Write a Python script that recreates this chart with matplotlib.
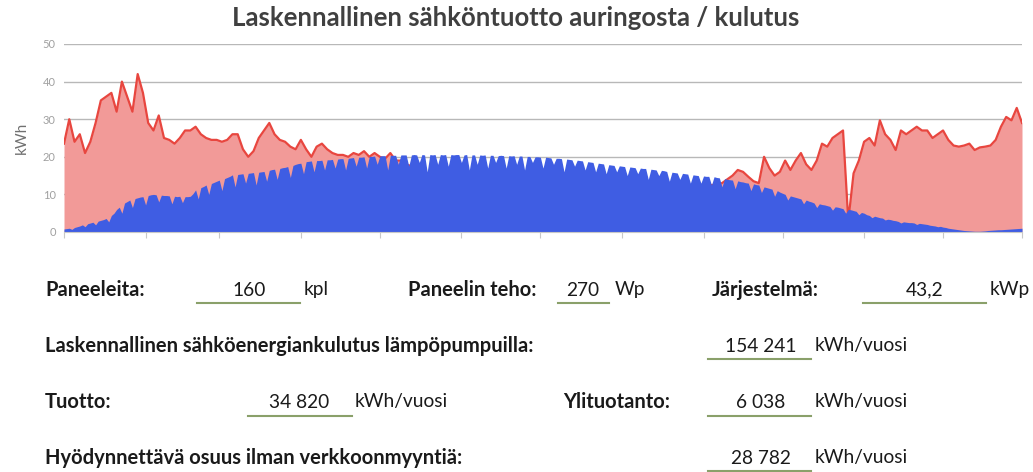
import numpy as np
import matplotlib
matplotlib.use('Agg')
import matplotlib.pyplot as plt
from matplotlib.lines import Line2D

plt.rcParams['font.family'] = ['Lato', 'DejaVu Sans']

# kulutus (kWh), joka toinen päivä 0..364
kulutus = [
    23.5, 30, 24, 26, 21, 24, 29, 35, 36, 37, 32, 40, 36, 32, 42, 37, 29, 27, 31, 25,
    24.5, 23.5, 25, 27, 27, 28, 26, 25, 24.5, 24.5, 24, 24.5, 26, 26, 22, 20, 21.5, 25, 27, 29,
    26, 24.5, 24, 22.7, 22, 24.5, 22, 20, 22.7, 23.5, 22, 21, 20.5, 20.5, 20, 21, 20.5, 21.5, 20, 21,
    20, 19.5, 21, 19, 19, 18, 17.5, 16.5, 16, 15.5, 15, 14.5, 14, 13.5, 13, 12.5, 12.5, 12, 12, 11.5,
    11.5, 11.5, 11, 11, 11, 11, 11, 11, 11, 11, 11, 11, 11, 11, 11, 11, 11, 11, 11, 11,
    11, 11, 11, 11, 11, 11.5, 11.5, 11.5, 11.5, 11.5, 11.5, 11.5, 11.5, 12, 12, 12, 12, 12, 12, 12,
    12, 12, 12, 12.5, 12.5, 13,
    14, 15, 16.5, 16, 14.7, 13.5, 13, 20, 17, 15, 16, 19, 16.5, 19, 21, 18, 16.5, 19, 23.5, 22.7,
    25, 26, 27, 3, 15.6, 19, 24, 25, 23, 29.7, 26, 24.5, 21.8, 27, 26, 27, 28, 27, 27, 25,
    26, 27, 24.5, 23, 22.7, 23, 23.5, 21.8, 22.5, 22.7, 23, 24.5, 28, 30.6, 29.7, 33, 29,
]

# tuotto (kWh), päivittäin 0..364
tuotto = [
    0.8, 0.9, 1.0, 0.7, 1.2, 1.4, 1.6, 1.9, 1.4, 2.2, 2.4, 2.6, 1.9, 2.9, 3.1, 3.3, 3.6, 2.7, 4.4, 5.0,
    6.0, 6.6, 5.0, 7.7, 8.1, 8.5, 6.5, 8.9, 9.1, 9.3, 9.4, 7.2, 9.7, 9.9, 10.0, 9.9, 8.0, 9.8, 9.7, 9.7,
    9.6, 7.5, 9.5, 9.4, 9.5, 7.8, 9.4, 9.4, 9.5, 10.2, 11.2, 8.8, 11.8, 12.1, 12.5, 10.0, 12.9, 13.2, 13.5, 13.8,
    11.0, 14.2, 14.5, 14.8, 15.2, 12.0, 15.3, 15.4, 15.5, 13.0, 15.6, 15.7, 15.8, 12.5, 15.9, 16.0, 16.1, 13.5, 16.4, 16.6,
    16.7, 14.0, 16.9, 17.1, 17.2, 17.4, 14.5, 17.7, 18.0, 18.2, 18.3, 15.5, 18.7, 18.8, 18.9, 16.0, 19.0, 19.0, 19.1, 16.5,
    19.2, 19.2, 19.3, 17.0, 19.4, 19.5, 19.5, 16.5, 19.6, 19.7, 19.8, 17.5, 19.9, 19.9, 20.0, 17.0, 20.1, 20.1, 20.2, 18.0,
    20.2, 20.3, 20.3, 16.5, 20.4, 20.4, 20.4, 18.0, 20.5, 20.5, 20.5, 17.5, 20.5, 20.6, 20.5, 18.5, 20.6, 20.5, 16.0, 20.6,
    20.5, 20.6, 18.0, 20.6, 20.5, 20.6, 17.5, 20.6, 20.5, 20.6, 20.6, 18.5, 20.5, 20.6, 16.5, 20.5, 20.5, 18.0, 20.5, 20.4,
    20.5, 17.0, 20.4, 20.4, 18.5, 20.3, 20.4, 20.3, 17.0, 20.3, 20.2, 20.3, 18.0, 20.2, 20.2, 16.5, 20.1, 20.1, 18.5, 20.0,
    20.0, 19.9, 17.0, 19.9, 19.8, 19.7, 18.0, 19.6, 19.6, 19.5, 16.0, 19.4, 19.3, 19.2, 17.5, 19.1, 19.0, 18.9, 16.5, 18.7,
    18.6, 18.5, 16.0, 18.3, 18.2, 18.1, 15.5, 17.9, 17.8, 17.7, 16.0, 17.6, 17.5, 17.4, 15.0, 17.3, 17.2, 17.1, 15.5, 17.0,
    16.9, 16.9, 14.0, 16.7, 16.6, 16.5, 15.0, 16.4, 16.3, 16.1, 13.5, 15.9, 15.8, 15.7, 14.0, 15.6, 15.5, 15.4, 13.0, 15.2,
    15.1, 15.0, 13.0, 14.9, 14.8, 14.8, 12.5, 14.7, 14.5, 14.4, 12.0, 14.2, 14.0, 13.9, 13.8, 11.5, 13.6, 13.4, 13.3, 13.1,
    13.0, 11.0, 12.8, 12.6, 12.5, 10.5, 12.0, 11.8, 11.6, 11.4, 9.5, 11.0, 10.6, 10.3, 10.0, 8.5, 9.6, 9.4, 9.2, 9.0,
    8.8, 7.5, 8.5, 8.2, 8.0, 7.7, 6.5, 7.5, 7.3, 7.2, 7.0, 6.8, 5.8, 6.7, 6.6, 6.4, 6.2, 5.0, 6.0, 5.9,
    5.7, 5.5, 4.6, 5.2, 5.0, 4.6, 4.4, 3.8, 4.2, 4.0, 3.8, 3.7, 3.2, 3.4, 3.3, 3.1, 3.0, 2.8, 2.4, 2.7,
    2.6, 2.5, 2.5, 2.4, 2.0, 2.3, 2.2, 2.1, 2.0, 1.8, 1.7, 1.6, 1.4, 1.5, 1.3, 1.2, 1.0, 0.9, 0.8, 0.7,
    0.6, 0.5, 0.4, 0.35, 0.3, 0.25, 0.2, 0.2, 0.2, 0.25, 0.3, 0.4, 0.45, 0.5, 0.55, 0.6, 0.6, 0.65, 0.7, 0.75,
    0.8, 0.85, 0.9, 0.95, 1.0,
]

kuukausirajat = [0, 31, 59, 90, 120, 151, 181, 212, 243, 273, 304, 334, 364]

W, H = 1033, 472
fig = plt.figure(figsize=(W / 100, H / 100), dpi=100)
ax = fig.add_axes([64 / W, 1 - 232 / H, (1022 - 64) / W, (232 - 44) / H])

xk = np.arange(len(kulutus)) * 2
xt = np.arange(len(tuotto))

ax.fill_between(xk, kulutus, color='#f29a98', lw=0, zorder=1)
ax.plot(xk, kulutus, color='#e8463f', lw=1.6, zorder=2)
ax.fill_between(xt, tuotto, color='#3f5de3', lw=0, zorder=3)

ax.set_xlim(0, 364)
ax.set_ylim(0, 50)
ax.set_yticks(range(0, 51, 10))
ax.set_xticks(kuukausirajat)
ax.set_xticklabels([])
ax.grid(axis='y', color='#b8b8b8', lw=1)
ax.set_axisbelow(True)
for s in ['top', 'right', 'left']:
    ax.spines[s].set_visible(False)
ax.spines['bottom'].set_color('#c8c8c8')
ax.spines['bottom'].set_zorder(4)
ax.tick_params(axis='x', length=4, color='#c8c8c8')
ax.tick_params(axis='y', length=0, labelsize=8, labelcolor='#a0a0a0', pad=6)
ax.set_ylabel('kWh', fontsize=11, color='#707070', labelpad=10)

fig.text(516 / W, 1 - 18 / H, 'Laskennallinen sähköntuotto auringosta / kulutus',
         ha='center', va='center', fontsize=18.5, fontweight='bold', color='#404040')


def teksti(x, y, s, bold=False, ha='left'):
    fig.text(x / W, 1 - y / H, s, ha=ha, va='center',
             fontsize=14.5 if bold else 13.8,
             fontweight='bold' if bold else 'normal', color='#1a1a1a')


def viiva(x0, x1, y):
    fig.add_artist(Line2D([x0 / W, x1 / W], [1 - y / H, 1 - y / H],
                          transform=fig.transFigure, color='#8aa06a', lw=1.5))


# rivi 1
teksti(45, 290, 'Paneeleita:', bold=True)
teksti(249, 290, '160', ha='center')
viiva(197, 300, 303)
teksti(304, 290, 'kpl')
teksti(408, 290, 'Paneelin teho:', bold=True)
teksti(583, 290, '270', ha='center')
viiva(558, 609, 303)
teksti(615, 290, 'Wp')
teksti(712, 290, 'Järjestelmä:', bold=True)
teksti(925, 290, '43,2', ha='center')
viiva(863, 986, 303)
teksti(990, 290, 'kWp')

# rivi 2
teksti(45, 346, 'Laskennallinen sähköenergiankulutus lämpöpumpuilla:', bold=True)
teksti(761, 346, '154 241', ha='center')
viiva(708, 811, 359)
teksti(815, 346, 'kWh/vuosi')

# rivi 3
teksti(45, 402, 'Tuotto:', bold=True)
teksti(299, 402, '34 820', ha='center')
viiva(248, 352, 416)
teksti(355, 402, 'kWh/vuosi')
teksti(563, 402, 'Ylituotanto:', bold=True)
teksti(761, 402, '6 038', ha='center')
viiva(708, 811, 416)
teksti(815, 402, 'kWh/vuosi')

# rivi 4
teksti(45, 458, 'Hyödynnettävä osuus ilman verkkoonmyyntiä:', bold=True)
teksti(761, 458, '28 782', ha='center')
viiva(708, 811, 471)
teksti(815, 458, 'kWh/vuosi')

fig.savefig('out.png', dpi=100)
